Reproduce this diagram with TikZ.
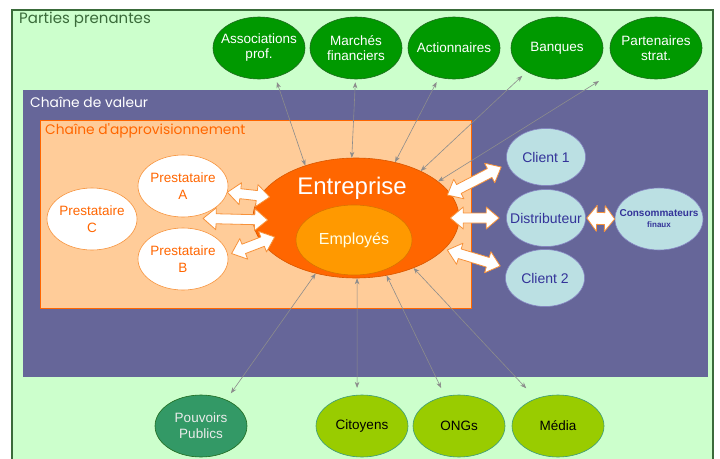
\documentclass[tikz,border=0pt]{standalone}
\usepackage{fontspec}
\setmainfont{Liberation Sans}
\newfontfamily\titlefont{Poppins}
\usetikzlibrary{shapes.geometric,calc,arrows.meta}

\definecolor{paleGreen}{HTML}{CCFFCC}
\definecolor{frameGreen}{HTML}{3A6B3A}
\definecolor{chainBlue}{HTML}{666699}
\definecolor{supplyFill}{HTML}{FFCC99}
\definecolor{supplyLine}{HTML}{FF6600}
\definecolor{entOrange}{HTML}{FF6600}
\definecolor{entLine}{HTML}{D95700}
\definecolor{empOrange}{HTML}{FF9900}
\definecolor{empLine}{HTML}{D97400}
\definecolor{stakeGreen}{HTML}{009900}
\definecolor{stakeLine}{HTML}{1F6B1F}
\definecolor{publicGreen}{HTML}{339966}
\definecolor{civilLime}{HTML}{99CC00}
\definecolor{civilLine}{HTML}{3C9A7A}
\definecolor{clientCyan}{HTML}{BBE0E3}
\definecolor{clientText}{HTML}{333399}
\definecolor{linkGray}{HTML}{8C8C8C}
\definecolor{arrowEdge}{HTML}{F7923A}

% white double block arrow between two named points:
% #1 from, #2 to, #3 head length, #4 head half-width, #5 shaft half-width
\newcommand\blockarrow[5]{%
  \coordinate (ba-s) at ($(#1)!#3!(#2)$);
  \coordinate (ba-e) at ($(#2)!#3!(#1)$);
  \draw[blockarr] (#1) -- ($(ba-s)!#4!90:(#2)$) -- ($(ba-s)!#5!90:(#2)$)
    -- ($(ba-e)!#5!-90:(#1)$) -- ($(ba-e)!#4!-90:(#1)$) -- (#2)
    -- ($(ba-e)!#4!90:(#1)$) -- ($(ba-e)!#5!90:(#1)$)
    -- ($(ba-s)!#5!-90:(#2)$) -- ($(ba-s)!#4!-90:(#2)$) -- cycle;}

\tikzset{
  blob/.style={ellipse, inner xsep=-10pt, inner ysep=-5pt, align=center,
    minimum width=92pt, minimum height=62pt, line width=0.6pt},
  stake/.style={blob, fill=stakeGreen, draw=stakeLine, text=white,
    font=\fontsize{13.5}{15}\selectfont},
  public/.style={blob, fill=publicGreen, draw=stakeLine, text=white!92!black,
    font=\fontsize{13.5}{16}\selectfont},
  civil/.style={blob, fill=civilLime, draw=civilLine, text=black,
    font=\fontsize{13.5}{15}\selectfont},
  supplier/.style={blob, fill=white, draw=arrowEdge, text=supplyLine,
    minimum width=90pt, font=\fontsize{13.5}{17}\selectfont},
  client/.style={blob, fill=clientCyan, draw=clientText!60, text=clientText,
    minimum width=79pt, minimum height=57pt, font=\fontsize{14}{16}\selectfont},
  link/.style={linkGray, line width=0.6pt, >={Stealth[length=6pt,width=4.5pt]},
    <->},
  blockarr/.style={fill=white, draw=arrowEdge, line width=0.8pt, line join=round},
  boxtitle/.style={anchor=west, inner sep=0pt, font=\titlefont\fontsize{13.8}{15}\selectfont}
}

\begin{document}
\begin{tikzpicture}[x=1pt,y=-1pt]
\useasboundingbox (0,0) rectangle (720,458);

% nested frames: stakeholders, value chain, supply chain
\begin{scope}
  \clip (0,0) rectangle (720,458);
  \draw[fill=paleGreen, draw=frameGreen, line width=1.2pt] (12,10) rectangle (713,475);
\end{scope}
\fill[chainBlue] (23,90) rectangle (708,377);
\draw[fill=supplyFill, draw=supplyLine, line width=1pt] (40,120) rectangle (471,308);

\node[boxtitle, text=frameGreen, font=\titlefont\fontsize{15}{16}\selectfont]
  (tparties) at (19,20) {Parties prenantes};
\node[boxtitle, text=white] (tvaleur) at (30,102) {Chaîne de valeur};
\node[boxtitle, text=supplyLine] (tappro) at (45,131) {Chaîne d'approvisionnement};

% the company
\node[ellipse, minimum width=206pt, minimum height=120pt, fill=entOrange,
  draw=entLine, line width=0.6pt] (ent) at (356,218) {};
\node[text=white, font=\fontsize{24}{26}\selectfont] (enttxt) at (352,188) {Entreprise};
\node[ellipse, minimum width=116pt, minimum height=70pt, fill=empOrange,
  draw=empLine, line width=0.6pt, text=white!90!yellow,
  font=\fontsize{16}{18}\selectfont] (emp) at (354,240) {Employés};

% stakeholders
\node[stake] (assoc) at (259,48) {Associations\\prof.};
\node[stake] (marches) at (356,48) {Marchés\\financiers};
\node[stake] (action) at (454,48) {Actionnaires};
\node[stake] (banques) at (557,48) {Banques};
\node[stake] (parten) at (656,48) {Partenaires\\strat.};

\node[public] (pouv) at (201,426) {Pouvoirs\\Publics};
\node[civil] (cit) at (362,426) {Citoyens};
\node[civil] (ong) at (459,426) {ONGs};
\node[civil] (media) at (558,426) {Média};

% suppliers
\node[supplier] (pa) at (183,186) {Prestataire\\A};
\node[supplier] (pb) at (183,259) {Prestataire\\B};
\node[supplier] (pc) at (92,219) {Prestataire\\C};

% downstream
\node[client] (c1) at (546,157) {Client 1};
\node[client] (dist) at (546,218) {Distributeur};
\node[client] (c2) at (545,278) {Client 2};
\node[blob, fill=clientCyan, draw=clientText!60, text=clientText,
  minimum width=88pt, minimum height=62pt, font=\bfseries\fontsize{10}{12}\selectfont]
  (cons) at (659,219) {Consommateurs\\[-1pt]{\fontsize{8}{9}\selectfont finaux}};

% stakeholder links
\draw[link, shorten <=5pt] (assoc.-61) -- (ent.134);
\draw[link, shorten <=3pt] (marches.-91) -- (ent.94);
\draw[link, shorten <=5pt] (action.-117) -- (ent.55);
\draw[link, shorten <=6pt] (banques.-142) -- (ent.36);
\draw[link, shorten <=25pt] (parten.-151) -- (ent.24);
\draw[link, shorten <=8pt] (pouv.46) -- (ent.-126);
\draw[link, shorten <=7pt] (cit.99) -- (ent.-89);
\draw[link, shorten <=9pt] (ong.115) -- (ent.-62);
\draw[link, shorten <=14pt] (media.129) -- (ent.-41);

% supply-side exchanges
\coordinate (la1) at (pa.-8);
\coordinate (la2) at ($(ent.west)+(17,-21)$);
\coordinate (lm1) at ($(pc.east)!0.57!(ent.west)$);
\coordinate (lm2) at ($(ent.west)+(15,2)$);
\coordinate (lb1) at ($(pb.7)+(4,0)$);
\coordinate (lb2) at ($(ent.west)+(22,19)$);
\blockarrow{la1}{la2}{13pt}{11pt}{5pt}
\blockarrow{lm1}{lm2}{13pt}{11pt}{5pt}
\blockarrow{lb1}{lb2}{13pt}{11pt}{5pt}

% demand-side exchanges
\coordinate (ru1) at ($(ent.east)+(-12,-23)$);
\coordinate (ru2) at ($(c1.west)+(-5,10)$);
\coordinate (rm1) at ($(ent.east)+(-9,0)$);
\coordinate (rm2) at ($(dist.west)+(-7,0)$);
\coordinate (rl1) at ($(ent.east)+(-12,32)$);
\coordinate (rl2) at ($(c2.west)+(-5,-12)$);
\blockarrow{ru1}{ru2}{13pt}{11pt}{5pt}
\blockarrow{rm1}{rm2}{13pt}{11pt}{5pt}
\blockarrow{rl1}{rl2}{13pt}{11pt}{5pt}

\coordinate (dc1) at ($(dist.east)+(1,0)$);
\coordinate (dc2) at (cons.west);
\blockarrow{dc1}{dc2}{10pt}{13pt}{6pt}
\end{tikzpicture}
\end{document}
